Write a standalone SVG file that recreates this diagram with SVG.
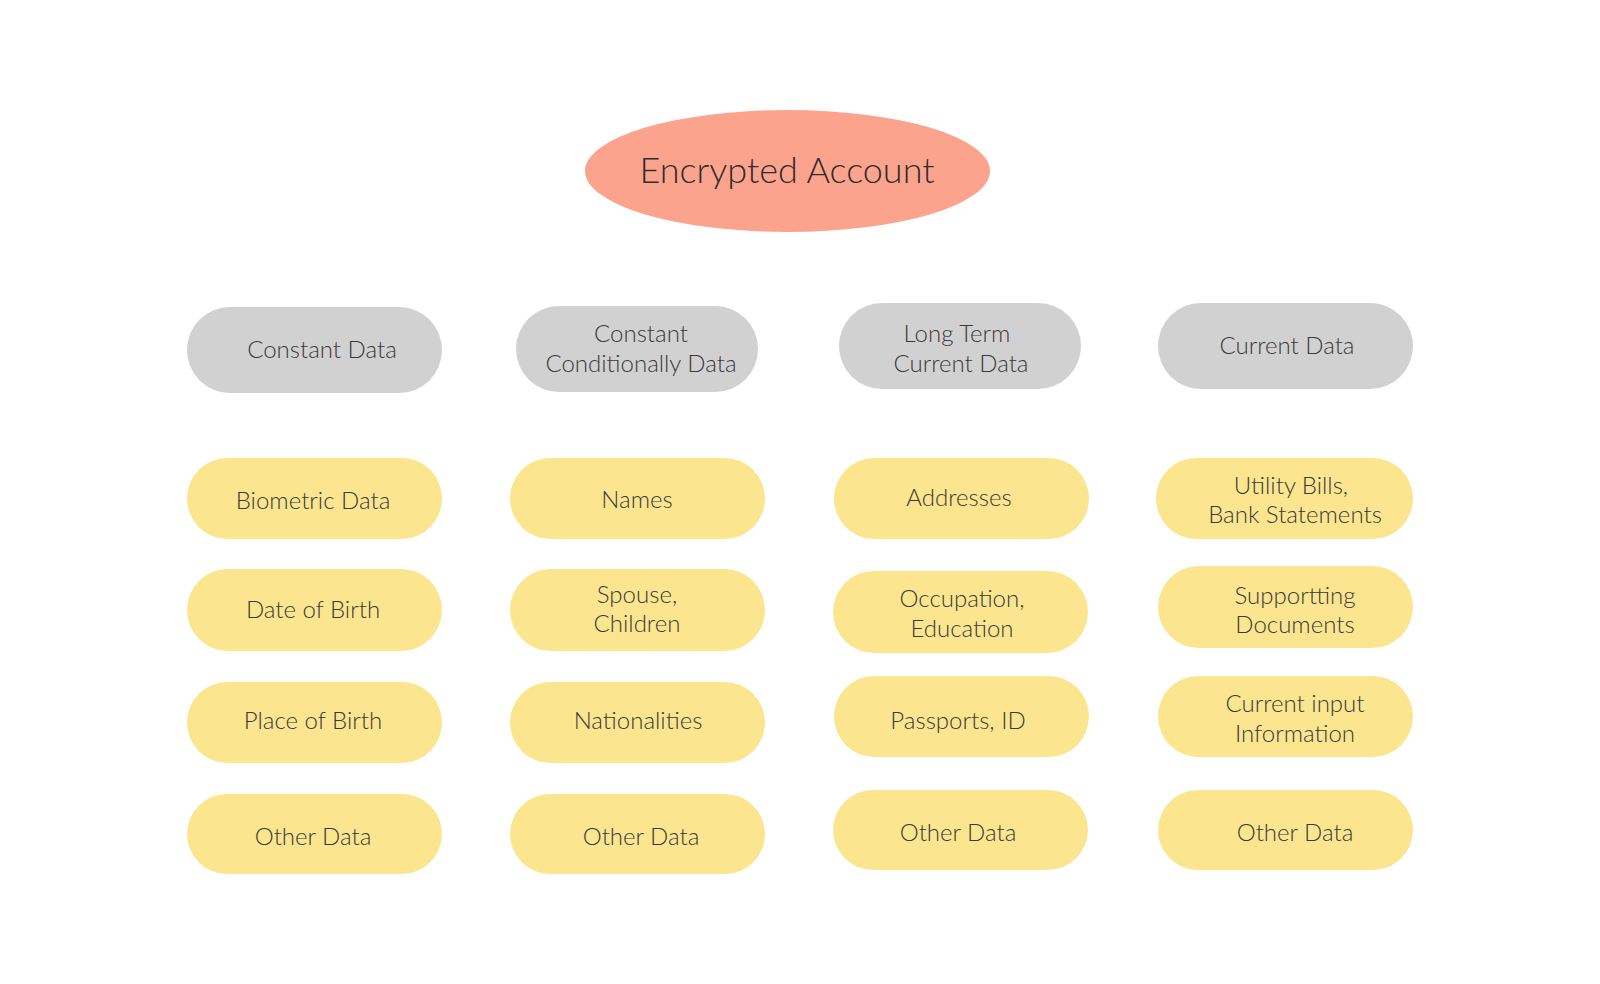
<svg xmlns="http://www.w3.org/2000/svg" width="1600" height="984" viewBox="0 0 1600 984">
<style>
.t{font-family:Lato,"Liberation Sans",sans-serif;font-weight:300;font-size:24px;fill:#3a3a3a;text-anchor:middle}
.h{fill:#d1d1d1}
.y{fill:#fbe58f}
.title{font-family:Lato,"Liberation Sans",sans-serif;font-weight:300;font-size:36px;fill:#2e2e2e;text-anchor:middle}
</style>
<rect width="1600" height="984" fill="#ffffff"/>
<g id="connectors"></g>
<g id="root"><ellipse cx="787.5" cy="171" rx="202.5" ry="61" fill="#fca38d"/><text class="title" x="787" y="183">Encrypted Account</text></g>

<g id="h1"><rect class="h" x="187" y="307" width="255" height="86" rx="43"/><text class="t" x="322" y="358">Constant Data</text></g>
<g id="h2"><rect class="h" x="516" y="306" width="242" height="86" rx="43"/><text class="t" x="641" y="342">Constant</text><text class="t" x="641" y="372">Conditionally Data</text></g>
<g id="h3"><rect class="h" x="839" y="303" width="242" height="86" rx="43"/><text class="t" x="957" y="342">Long Term</text><text class="t" x="961" y="372">Current Data</text></g>
<g id="h4"><rect class="h" x="1158" y="303" width="255" height="86" rx="43"/><text class="t" x="1287" y="354">Current Data</text></g>

<g id="c1r1"><rect class="y" x="187" y="458" width="255" height="81" rx="40.5"/><text class="t" x="313" y="509">Biometric Data</text></g>
<g id="c1r2"><rect class="y" x="187" y="569" width="255" height="82" rx="41"/><text class="t" x="313" y="618">Date of Birth</text></g>
<g id="c1r3"><rect class="y" x="187" y="682" width="255" height="81" rx="40.5"/><text class="t" x="313" y="729">Place of Birth</text></g>
<g id="c1r4"><rect class="y" x="187" y="794" width="255" height="80" rx="40"/><text class="t" x="313" y="845">Other Data</text></g>

<g id="c2r1"><rect class="y" x="510" y="458" width="255" height="81" rx="40.5"/><text class="t" x="637" y="508">Names</text></g>
<g id="c2r2"><rect class="y" x="510" y="569" width="255" height="82" rx="41"/><text class="t" x="637" y="603">Spouse,</text><text class="t" x="637" y="632">Children</text></g>
<g id="c2r3"><rect class="y" x="510" y="682" width="255" height="81" rx="40.5"/><text class="t" x="638" y="729">Nationalities</text></g>
<g id="c2r4"><rect class="y" x="510" y="794" width="255" height="80" rx="40"/><text class="t" x="641" y="845">Other Data</text></g>

<g id="c3r1"><rect class="y" x="834" y="458" width="255" height="81" rx="40.5"/><text class="t" x="959" y="506">Addresses</text></g>
<g id="c3r2"><rect class="y" x="833" y="571" width="255" height="82" rx="41"/><text class="t" x="962" y="607">Occupation,</text><text class="t" x="962" y="637">Education</text></g>
<g id="c3r3"><rect class="y" x="834" y="676" width="255" height="81" rx="40.5"/><text class="t" x="958" y="729">Passports, ID</text></g>
<g id="c3r4"><rect class="y" x="833" y="790" width="255" height="80" rx="40"/><text class="t" x="958" y="841">Other Data</text></g>

<g id="c4r1"><rect class="y" x="1156" y="458" width="257" height="81" rx="40.5"/><text class="t" x="1291" y="494">Utility Bills,</text><text class="t" x="1295" y="523">Bank Statements</text></g>
<g id="c4r2"><rect class="y" x="1158" y="566" width="255" height="82" rx="41"/><text class="t" x="1295" y="604">Supportting</text><text class="t" x="1295" y="633">Documents</text></g>
<g id="c4r3"><rect class="y" x="1158" y="676" width="255" height="81" rx="40.5"/><text class="t" x="1295" y="712">Current input</text><text class="t" x="1295" y="742">Information</text></g>
<g id="c4r4"><rect class="y" x="1158" y="790" width="255" height="80" rx="40"/><text class="t" x="1295" y="841">Other Data</text></g>
</svg>
